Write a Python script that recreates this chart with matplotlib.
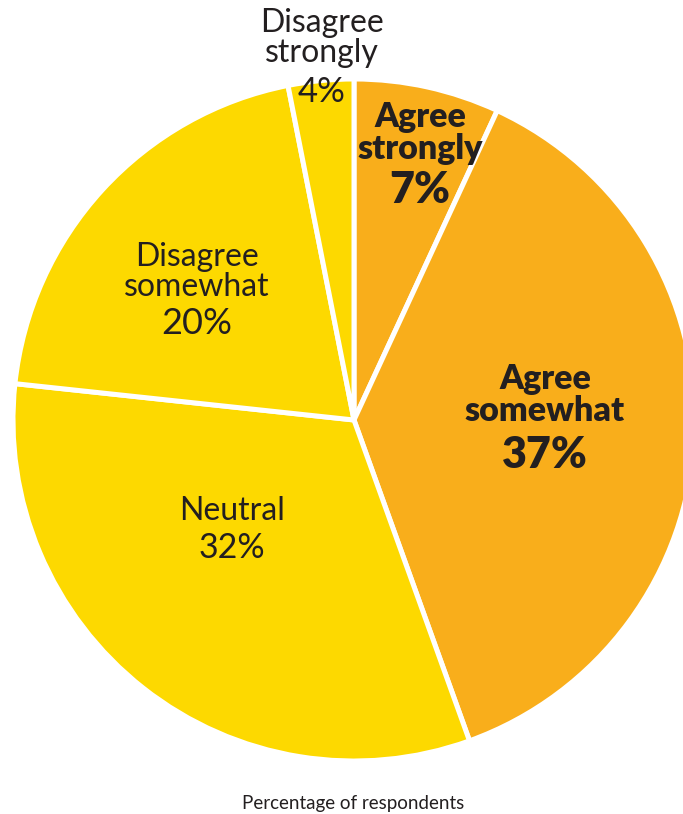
import matplotlib.pyplot as plt

# dados (sentido horario a partir do topo)
categorias = ["Agree\nstrongly", "Agree\nsomewhat", "Neutral",
              "Disagree\nsomewhat", "Disagree\nstrongly"]
fatias = [6.9, 37.6, 32.2, 20.2, 3.1]
rotulos_pct = ["7%", "37%", "32%", "20%", "4%"]
cores = ["#F9AE1B", "#F9AE1B", "#FDD900", "#FDD900", "#FDD900"]
negrito = [True, True, False, False, False]

# posicoes dos rotulos (pixels: x, y do nome, y do percentual)
pos_rotulos = [(420, 133, 190), (545, 395, 455), (232, 511, 548),
               (197, 272, 323), (322, 38, 92)]
tam_nome = [24.5, 24.5, 23, 23, 23]
tam_pct = [31, 31, 24.5, 26, 25]

cor_texto = "#231F20"

fig = plt.figure(figsize=(6.83, 8.14), dpi=100)
ax = fig.add_axes([0, 0, 1, 1])

ax.pie(fatias, colors=cores, startangle=90, counterclock=False,
       center=(354, -420), radius=341,
       wedgeprops=dict(edgecolor="white", linewidth=3.6))
ax.set_xlim(0, 683)
ax.set_ylim(-814, 0)
ax.set_aspect("equal")
ax.axis("off")

for i in range(len(categorias)):
    x, y1, y2 = pos_rotulos[i]
    w = "heavy" if negrito[i] else "normal"
    ax.text(x, -y1, categorias[i], ha="center", va="center", fontsize=tam_nome[i],
            fontweight=w, color=cor_texto, linespacing=1.0, family="Lato")
    ax.text(x, -y2, rotulos_pct[i], ha="center", va="center",
            fontsize=tam_pct[i], fontweight=w, color=cor_texto, family="Lato")

ax.text(353, -804, "Percentage of respondents", ha="center", va="center",
        fontsize=13.5, color=cor_texto, family="Lato")

fig.savefig("out.png", dpi=100)
